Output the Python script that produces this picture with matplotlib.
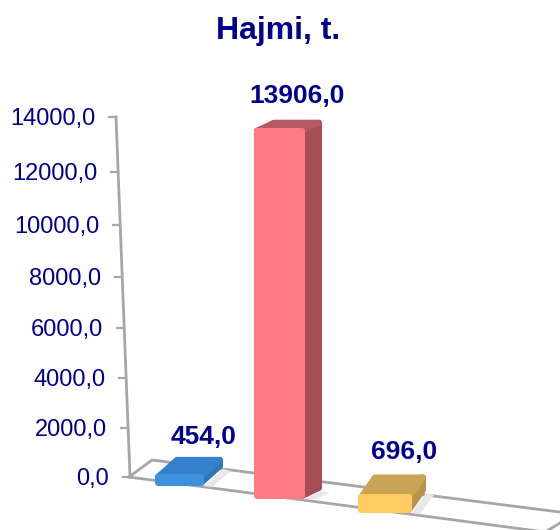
import numpy as np
import matplotlib
matplotlib.use("Agg")
import matplotlib.pyplot as plt
from matplotlib.patches import Polygon

plt.rcParams['font.family'] = ['Liberation Sans', 'DejaVu Sans']

title = "Hajmi, t."
bar_values = [454.0, 13906.0, 696.0]
bar_labels = ["454,0", "13906,0", "696,0"]
tick_values = [0, 2000, 4000, 6000, 8000, 10000, 12000, 14000]
tick_labels = ["0,0", "2000,0", "4000,0", "6000,0", "8000,0", "10000,0", "12000,0", "14000,0"]

# Layout (pixels) - separate from the data
tick_px = [477, 428, 378, 328, 277, 225, 172, 117]
axis_x_bottom, axis_x_top = 130, 116
bar_front_left = [155, 254, 358]
bar_front_right = [204, 305, 412]
bar_front_bottom = [486, 499, 513]
bar_dx = [19, 17, 14]
bar_dy = [-17, -8, -20]
px_per_value = 0.0267
faces = [("#3D92E0", "#2F74B5", "#3580CC"),
         ("#FF7A85", "#A54E55", "#B5585F"),
         ("#FFCB62", "#B8944A", "#CBA355")]
navy = "#00008E"
grey = "#A6A6A6"
round_px = 3

fig = plt.figure(figsize=(5.6, 5.3), dpi=100)
ax = fig.add_axes([0, 0, 1, 1])
ax.set_xlim(0, 560)
ax.set_ylim(530, 0)
ax.axis("off")

# floor
ax.add_patch(Polygon([(129, 477), (152, 460), (575, 514), (545, 532)], closed=True,
                     facecolor="white", edgecolor=grey, lw=2, zorder=1))

# value axis
ax.plot([axis_x_top, axis_x_bottom], [tick_px[-1], tick_px[0]], color=grey, lw=2, zorder=1)
for v, lab, yp in zip(tick_values, tick_labels, tick_px):
    xp = np.interp(yp, [tick_px[-1], tick_px[0]], [axis_x_top, axis_x_bottom])
    ax.plot([xp - 7, xp], [yp, yp], color=grey, lw=1.6, zorder=1)
    ax.text(xp - 21, yp + 2, lab, color=navy, fontsize=17,
            ha="right", va="center", zorder=5)

# bars
lw_pt = 2 * round_px * 0.72
for i, v in enumerate(bar_values):
    l, r, b = bar_front_left[i], bar_front_right[i], bar_front_bottom[i]
    dx, dy = bar_dx[i], bar_dy[i]
    t = b - px_per_value * v
    front, side, top = faces[i]
    q = round_px
    # soft floor shadow
    ax.add_patch(Polygon([(r, b), (r + dx, b + dy), (r + dx + 8, b + dy + 2), (r + 8, b + 1)],
                         closed=True, facecolor="#E8E8E8", edgecolor="none", zorder=2))
    shapes = [([(r - q, t + q), (r + dx - q, t + dy + q), (r + dx - q, b + dy - q), (r - q, b - q)], side, 3),
              ([(l + q, t + q), (l + dx + q, t + dy + q), (r + dx - q, t + dy + q), (r - q, t + q)], top, 3),
              ([(l + q, t + q), (r - q, t + q), (r - q, b - q), (l + q, b - q)], front, 4)]
    for pts, c, z in shapes:
        ax.add_patch(Polygon(pts, closed=True, facecolor=c, edgecolor=c, lw=lw_pt,
                             joinstyle="round", zorder=z))

# value labels
label_x = [204, 297, 404]
label_y = [437, 96, 452]
for lab, xp, yp in zip(bar_labels, label_x, label_y):
    ax.text(xp, yp, lab, color=navy, fontsize=19, fontweight="bold",
            ha="center", va="center", zorder=6)

ax.text(278, 31, title, color=navy, fontsize=23, fontweight="bold",
        ha="center", va="center", zorder=6)

fig.savefig("out.png", dpi=100, facecolor="white")
